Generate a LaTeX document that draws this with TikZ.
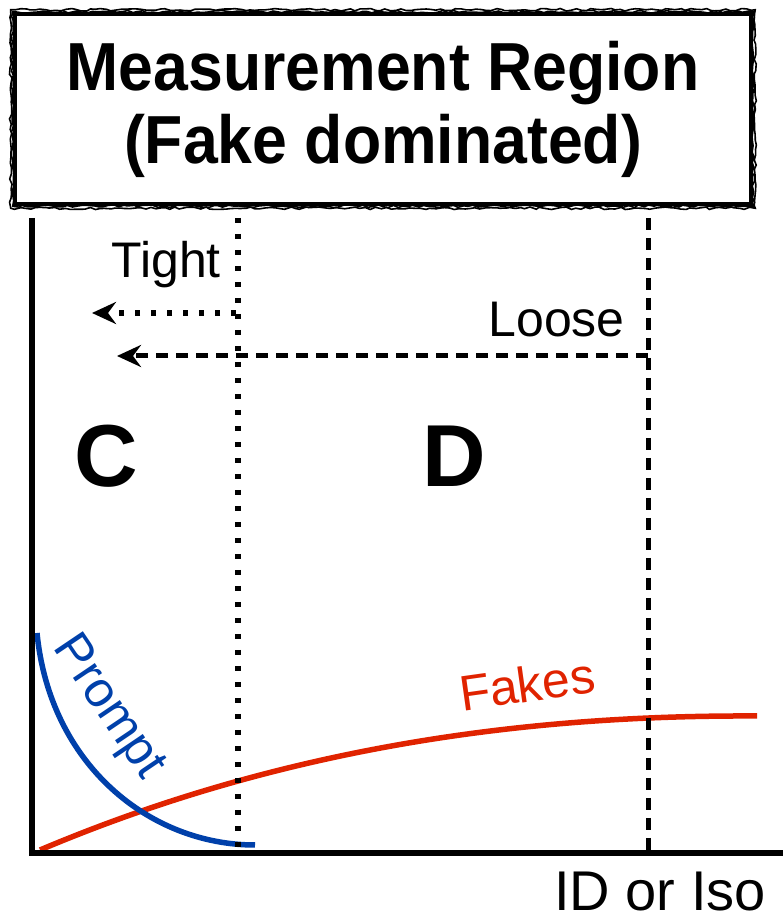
\documentclass[tikz,border=0pt]{standalone}
\usepackage{fontspec}
\usepackage{graphicx}
\setmainfont{Liberation Sans}
\usetikzlibrary{arrows.meta,decorations.pathmorphing}
\definecolor{fakered}{HTML}{E02300}
\definecolor{promptblue}{HTML}{0040AA}
\newcommand{\narrowtxt}[1]{\scalebox{0.92}[1]{#1}}
\begin{document}
\begin{tikzpicture}[x=1pt,y=1pt,
  axis/.style={line width=6.5pt},
  tightline/.style={line width=5.5pt, dash pattern=on 5.5pt off 10.5pt},
  looseline/.style={line width=5pt, dash pattern=on 12pt off 8pt},
  arrowtip/.style={-{Stealth[length=24pt,width=22pt,inset=8pt]}},
  lbl/.style={font=\fontsize{50}{60}\selectfont, inner sep=0pt},
  region/.style={font=\fontsize{88}{100}\selectfont\bfseries, inner sep=0pt},
  curve/.style={line width=5.5pt},
  sketch/.style={decorate, decoration={random steps,segment length=5pt,amplitude=1.3pt}, line width=1.6pt}
]
\useasboundingbox (0,0) rectangle (783,915);
% title box
\node[draw, line width=4.5pt, minimum width=736pt, minimum height=190pt, inner sep=0pt,
      align=center, font=\fontsize{68}{73}\selectfont\bfseries] (title) at (383,806)
      {\narrowtxt{Measurement Region}\\\narrowtxt{(Fake dominated)}};
\draw[sketch] (title.north west) -- (title.north east) -- (title.south east) -- (title.south west) -- cycle;
\draw[sketch] ([shift={(-2pt,2pt)}]title.north west) -- ([shift={(2pt,2pt)}]title.north east) -- ([shift={(2pt,-2pt)}]title.south east) -- ([shift={(-2pt,-2pt)}]title.south west) -- cycle;
% coordinates
\coordinate (ytop) at (32,697);
\coordinate (O) at (32,62);
\coordinate (xend) at (783,62);
\coordinate (t1) at (238,697);
\coordinate (t0) at (238,62);
\coordinate (l1) at (648,697);
\coordinate (l0) at (648,62);
\coordinate (tA) at (236,602);
\coordinate (tB) at (92,602);
\coordinate (lA) at (648,559);
\coordinate (lB) at (117,559);
% curves
\draw[curve, fakered] (40,65) .. controls (300,175) and (550,200) .. (757,199);
\draw[curve, promptblue] (37,282) .. controls (50,150) and (150,70) .. (255,70);
% axes
\draw[axis] (ytop) -- (O) -- (xend);
% cut lines
\draw[tightline] (t1) -- (t0);
\draw[looseline] (l1) -- (l0);
\draw[tightline, arrowtip] (tA) -- (tB);
\draw[looseline, arrowtip] (lA) -- (lB);
% labels
\node[lbl, anchor=base east] (tight) at (221,637) {Tight};
\node[lbl, anchor=base east] (loose) at (625,578) {Loose};
\node[region, anchor=base] (C) at (106,428) {C};
\node[region, anchor=base] (D) at (454,428) {D};
\node[lbl, fakered, rotate=8] (fakes) at (527,231) {Fakes};
\node[lbl, promptblue, rotate=-56] (prompt) at (108,207) {Prompt};
\node[lbl, font=\fontsize{56}{60}\selectfont, anchor=base east] (xlab) at (766,5) {ID or Iso};
\end{tikzpicture}
\end{document}
